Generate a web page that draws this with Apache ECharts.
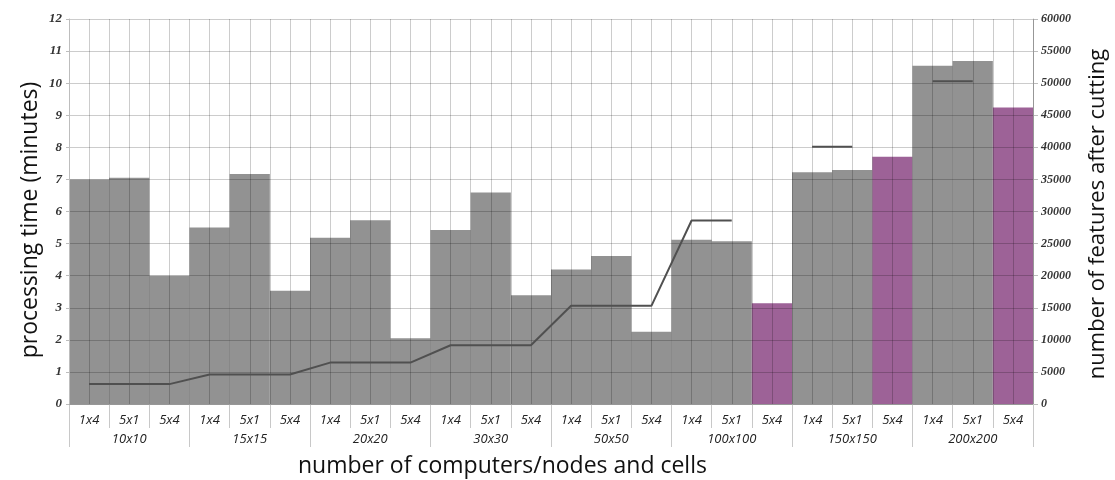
<!DOCTYPE html>
<html>
<head>
<meta charset="utf-8">
<script src="https://cdn.jsdelivr.net/npm/echarts@6/dist/echarts.min.js"></script>
<style>
  html, body { margin: 0; padding: 0; background: #fff; }
  #chart { width: 1115px; height: 480px; }
</style>
</head>
<body>
<div id="chart"></div>
<script>
  // groups of cells and node setups under each group
  var groups = ['10x10', '15x15', '20x20', '30x30', '50x50', '100x100', '150x150', '200x200'];
  var setups = ['1x4', '5x1', '5x4'];
  // processing time in minutes, one per group/setup
  var timeMinutes = [
    7.0, 7.05, 4.0,
    5.5, 7.17, 3.53,
    5.18, 5.73, 2.05,
    5.42, 6.59, 3.39,
    4.19, 4.61, 2.25,
    5.12, 5.07, 3.14,
    7.22, 7.29, 7.71,
    10.54, 10.69, 9.24
  ];
  // bars drawn in purple
  var purpleFlags = [
    0, 0, 0,  0, 0, 0,  0, 0, 0,  0, 0, 0,
    0, 0, 0,  0, 0, 1,  0, 0, 1,  0, 0, 1
  ];
  // number of features after cutting (right axis)
  var features = [
    3100, 3100, 3100,
    4600, 4600, 4600,
    6450, 6450, 6450,
    9150, 9150, 9150,
    15300, 15300, 15300,
    28600, 28600, null,
    40100, 40100, null,
    50300, 50300, null
  ];

  var labels = [];
  groups.forEach(function (g) {
    setups.forEach(function (s) { labels.push(s); });
  });
  var halfCells = [];
  for (var i = 0; i < labels.length * 2; i++) halfCells.push('h' + i);

  var gridColor = 'rgba(0,0,0,0.2)';
  var numFont = { fontFamily: 'Liberation Serif', fontStyle: 'italic', fontWeight: 'bold', fontSize: 13, color: '#333' };
  var catFont = { fontFamily: 'Open Sans', fontStyle: 'italic', fontSize: 13, color: '#222' };
  var titleFont = { fontFamily: 'Open Sans', fontSize: 23, fill: '#111' };

  var chart = echarts.init(document.getElementById('chart'));
  chart.setOption({
    animation: false,
    grid: { left: 69, right: 82, top: 19, bottom: 76, outerBoundsMode: 'none' },
    xAxis: [
      {
        type: 'category',
        data: labels,
        position: 'bottom',
        axisLine: { show: true, lineStyle: { color: '#bdbdbd' } },
        axisTick: { show: true, interval: 0, length: 24, lineStyle: { color: '#c8c8c8' } },
        axisLabel: Object.assign({ interval: 0, margin: 10 }, catFont),
        splitLine: { show: false }
      },
      {
        type: 'category',
        data: groups,
        position: 'bottom',
        axisLine: { show: false },
        axisTick: { show: true, interval: 0, length: 43, lineStyle: { color: '#c8c8c8' } },
        axisLabel: Object.assign({ interval: 0, margin: 29 }, catFont),
        splitLine: { show: false }
      },
      {
        type: 'category',
        data: halfCells,
        position: 'top',
        z: 3,
        axisLine: { show: false },
        axisTick: { show: false },
        axisLabel: { show: false },
        splitLine: { show: true, interval: 0, lineStyle: { color: gridColor, width: 1 } }
      }
    ],
    yAxis: [
      {
        type: 'value',
        min: 0, max: 12, interval: 1,
        z: 3,
        axisLine: { show: true, lineStyle: { color: '#bdbdbd' } },
        axisTick: { show: true, length: 3, lineStyle: { color: '#bdbdbd' } },
        axisLabel: Object.assign({ margin: 7 }, numFont),
        splitLine: { show: true, lineStyle: { color: gridColor, width: 1 } }
      },
      {
        type: 'value',
        min: 0, max: 60000, interval: 5000,
        position: 'right',
        axisLine: { show: true, lineStyle: { color: '#bdbdbd' } },
        axisTick: { show: true, length: 5, lineStyle: { color: '#bdbdbd' } },
        axisLabel: Object.assign({ margin: 8, formatter: function (v) { return String(v); } }, numFont, { fontSize: 12 }),
        splitLine: { show: false }
      }
    ],
    graphic: [
      {
        type: 'text',
        x: 30, y: 220,
        rotation: Math.PI / 2,
        style: Object.assign({ text: 'processing time (minutes)', textAlign: 'center', textVerticalAlign: 'middle' }, titleFont)
      },
      {
        type: 'text',
        x: 1098, y: 214,
        rotation: Math.PI / 2,
        style: Object.assign({ text: 'number of features after cutting', textAlign: 'center', textVerticalAlign: 'middle' }, titleFont, { fontSize: 22 })
      },
      {
        type: 'text',
        x: 298, y: 466,
        style: Object.assign({ text: 'number of computers/nodes and cells', textAlign: 'left', textVerticalAlign: 'middle' }, titleFont)
      }
    ],
    series: [
      {
        type: 'bar',
        xAxisIndex: 0,
        yAxisIndex: 0,
        barCategoryGap: '0%',
        z: 2,
        data: timeMinutes.map(function (v, i) {
          return { value: v, itemStyle: { color: purpleFlags[i] ? '#9d6297' : '#929292' } };
        })
      },
      {
        type: 'line',
        xAxisIndex: 0,
        yAxisIndex: 1,
        z: 5,
        symbol: 'none',
        connectNulls: false,
        lineStyle: { color: '#505050', width: 2 },
        data: features
      }
    ]
  });
</script>
</body>
</html>
